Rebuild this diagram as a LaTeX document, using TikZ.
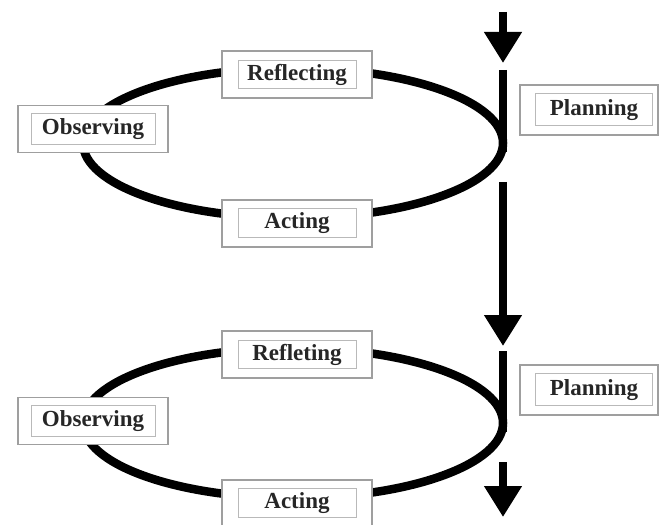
\documentclass[tikz,border=0pt]{standalone}
\usepackage{fontspec}
\setmainfont{Liberation Serif}
\usetikzlibrary{arrows.meta}
\begin{document}
\begin{tikzpicture}[x=1bp,y=-1bp,
  loopline/.style={line width=8.5bp, black},
  flowline/.style={line width=7.5bp, black},
  flowarrow/.style={line width=7.5bp, black, -{Triangle[width=36bp,length=31bp]}},
  stagebox/.style n args={4}{draw=gray!75, line width=1.3bp, fill=white,
     minimum width=150bp, minimum height=47bp, inner sep=0pt,
     font=\fontsize{23bp}{27bp}\selectfont\bfseries, text=black!85,
     path picture={\draw[gray!55, line width=0.8bp]
       ([shift={(#1,-#3)}]path picture bounding box.north west) rectangle
       ([shift={(-#2,#4)}]path picture bounding box.south east);}},
]
\useasboundingbox (0,0) rectangle (661,525);

% coordinates
\coordinate (c1) at (293,143);
\coordinate (c2) at (293,423);
\coordinate (t0) at (503,12);
\coordinate (t1) at (503,63);
\coordinate (j1a) at (503,70);
\coordinate (j1b) at (503,152);
\coordinate (m0) at (503,182);
\coordinate (m1) at (503,346);
\coordinate (j2a) at (503,351);
\coordinate (j2b) at (503,432);
\coordinate (b0) at (503,462);
\coordinate (b1) at (503,517);

% cycles
\draw[loopline] (c1) ellipse [x radius=210bp, y radius=75bp];
\draw[loopline] (c2) ellipse [x radius=210bp, y radius=75bp];
\draw[flowline] (j1a) -- (j1b);
\draw[flowline] (j2a) -- (j2b);

% arrows
\draw[flowarrow] (t0) -- (t1);
\draw[flowarrow] (m0) -- (m1);
\draw[flowarrow] (b0) -- (b1);

% first cycle
\node[stagebox={16bp}{16bp}{9bp}{10bp}] (refl1) at (297,74.5) {Reflecting};
\node[stagebox={13bp}{13bp}{8bp}{8bp}] (obs1) at (93,129) {Observing};
\node[stagebox={16bp}{16bp}{8bp}{10bp}] (act1) at (297,223.5) {Acting};
\node[stagebox={15bp}{6bp}{8bp}{10bp}, minimum width=138bp, minimum height=50bp] (plan1) at (589,110) {\hspace{10bp}Planning};

% second cycle
\node[stagebox={16bp}{16bp}{9bp}{10bp}] (refl2) at (297,354.5) {Refleting};
\node[stagebox={13bp}{13bp}{8bp}{8bp}] (obs2) at (93,421) {Observing};
\node[stagebox={16bp}{16bp}{8bp}{10bp}] (act2) at (297,503.5) {Acting};
\node[stagebox={15bp}{6bp}{8bp}{10bp}, minimum width=138bp, minimum height=50bp] (plan2) at (589,390) {\hspace{10bp}Planning};
\end{tikzpicture}
\end{document}
